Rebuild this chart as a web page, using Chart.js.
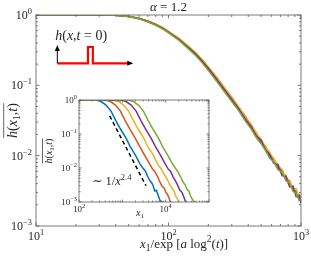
<!DOCTYPE html>
<html>
<head>
<meta charset="utf-8">
<script src="https://cdn.jsdelivr.net/npm/chart.js@4"></script>
<style>
  html, body { margin: 0; padding: 0; background: #fff; }
  #wrap { position: relative; width: 311px; height: 257px; }
  #mainChart { position: absolute; left: 0; top: 0; }
  #insetChart { position: absolute; left: 40px; top: 90px; }
</style>
</head>
<body>
<div id="wrap">
  <canvas id="mainChart" width="311" height="257"></canvas>
  <canvas id="insetChart" width="174" height="134"></canvas>
</div>
<script>
// main panel: rescaled x1 / exp[a log^2(t)]
const mainX = [10, 20, 30, 40, 50, 60, 70, 80, 90, 100, 120, 140, 160, 180, 200, 230, 260, 300, 340, 380,
               420, 460, 500, 540, 580, 620, 670, 720, 770, 820, 870, 920, 970, 1000];
const mainBlue   = [1, 1, 1, 0.99, 0.955, 0.89, 0.81, 0.73, 0.65, 0.57, 0.45, 0.35, 0.28, 0.22, 0.174, 0.124, 0.091, 0.063, 0.045, 0.034,
                    0.025, 0.021, 0.015, 0.0135, 0.0098, 0.0091, 0.0066, 0.0061, 0.0045, 0.0043, 0.0032, 0.0031, 0.0024, 0.0025];
const mainOrange = [1, 1, 1, 0.99, 0.958, 0.895, 0.82, 0.74, 0.66, 0.58, 0.46, 0.36, 0.29, 0.228, 0.18, 0.13, 0.095, 0.067, 0.048, 0.036,
                    0.027, 0.02, 0.017, 0.0128, 0.011, 0.0082, 0.0076, 0.0055, 0.0052, 0.0039, 0.0037, 0.0028, 0.0028, 0.0022];
const mainYellow = [1, 1, 1, 0.99, 0.96, 0.9, 0.825, 0.745, 0.665, 0.585, 0.465, 0.365, 0.293, 0.232, 0.183, 0.132, 0.097, 0.068, 0.049, 0.035,
                    0.028, 0.021, 0.0165, 0.0135, 0.0108, 0.0092, 0.0072, 0.0064, 0.0047, 0.0045, 0.0033, 0.0034, 0.0025, 0.0027];
const mainPurple = [1, 1, 1, 0.99, 0.955, 0.89, 0.81, 0.73, 0.65, 0.57, 0.45, 0.35, 0.28, 0.22, 0.173, 0.123, 0.09, 0.063, 0.046, 0.033,
                    0.026, 0.019, 0.0165, 0.012, 0.0104, 0.0079, 0.0073, 0.0052, 0.005, 0.0036, 0.0036, 0.0026, 0.0027, 0.0021];
const mainGreen  = [1, 1, 1, 0.99, 0.95, 0.88, 0.795, 0.715, 0.635, 0.555, 0.435, 0.335, 0.265, 0.207, 0.162, 0.115, 0.084, 0.059, 0.043, 0.031,
                    0.024, 0.018, 0.0148, 0.0118, 0.0092, 0.0083, 0.0063, 0.0058, 0.0044, 0.0041, 0.0031, 0.0029, 0.0023, 0.0024];

// inset: raw x1
const insetBlueX   = [100, 247, 322, 421, 548, 716, 934, 1200, 1500, 2000, 2560, 3000, 3400, 3900, 4370, 5000, 5600, 6100, 6670, 7400, 8260, 9000];
const insetBlueY   = [1, 1, 0.9, 0.71, 0.47, 0.24, 0.131, 0.078, 0.044, 0.024, 0.013, 0.0098, 0.0082, 0.0054, 0.0042, 0.0033, 0.0021, 0.0022, 0.0016, 0.0011, 0.001, 0.0006];
const insetOrangeX = [100, 408, 531, 695, 904, 1180, 1540, 1980, 2480, 3300, 4220, 4950, 5610, 6440, 7210, 8250, 9240, 10100, 11000, 12200, 13600, 14900];
const insetOrangeY = [1, 1, 0.9, 0.71, 0.47, 0.24, 0.131, 0.076, 0.045, 0.023, 0.0135, 0.0095, 0.0078, 0.0058, 0.0041, 0.0029, 0.0026, 0.0019, 0.0017, 0.0012, 0.0009, 0.0006];
const insetYellowX = [100, 630, 821, 1070, 1400, 1830, 2380, 3060, 3830, 5100, 6530, 7650, 8670, 9950, 11100, 12800, 14300, 15600, 17000, 18900, 21100, 23000];
const insetYellowY = [1, 1, 0.9, 0.71, 0.47, 0.24, 0.131, 0.079, 0.043, 0.025, 0.0128, 0.01, 0.0076, 0.0056, 0.0044, 0.003, 0.0024, 0.0021, 0.0015, 0.0012, 0.0008, 0.0006];
const insetPurpleX = [100, 939, 1220, 1600, 2080, 2720, 3550, 4560, 5700, 7600, 9730, 11400, 12900, 14800, 16600, 19000, 21300, 23200, 25300, 28100, 31400, 34200];
const insetPurpleY = [1, 1, 0.9, 0.71, 0.47, 0.24, 0.131, 0.077, 0.045, 0.024, 0.0132, 0.0094, 0.008, 0.0055, 0.0043, 0.0031, 0.0022, 0.002, 0.0016, 0.0011, 0.0009, 0.0006];
const insetGreenX  = [100, 1380, 1800, 2360, 3070, 4010, 5230, 6720, 8400, 11200, 14300, 16800, 19000, 21800, 24500, 28000, 31400, 34200, 37400, 41400, 46300, 50400];
const insetGreenY  = [1, 1, 0.9, 0.71, 0.47, 0.24, 0.131, 0.078, 0.044, 0.0235, 0.0133, 0.0099, 0.0079, 0.0057, 0.0041, 0.0032, 0.0023, 0.0021, 0.0015, 0.0012, 0.001, 0.0007];

// power-law guide ~ 1/x^2.4
const slopeX = [510, 3520];
const slopeY = [0.34, 0.003];

// initial condition sketch h(x, t=0)
const pulseX = [0, 0.44, 0.44, 0.51, 0.51, 1];
const pulseY = [0, 0, 1, 1, 0, 0];

const mainXTicks = [10, 100, 1000];
const mainYTicks = [1e-3, 1e-2, 1e-1, 1];
const insetXTicks = [1e2, 1e4];
const insetYTicks = [1e-3, 1e-2, 1e-1, 1];

const colors = ['#0072BD', '#D95319', '#EDB120', '#7E2F8E', '#77AC30'];
const SERIF = '"Liberation Serif", "DejaVu Serif", serif';
const TXT = '#262626';

function pts(xs, ys) {
  return xs.map((x, i) => ({ x: x, y: ys[i] }));
}
function f(size, italic) {
  return (italic ? 'italic ' : '') + size + 'px ' + SERIF;
}

// draw a row of text pieces: [text, font, dy]
function drawRich(ctx, segs, x, y, align) {
  let w = 0;
  segs.forEach(s => { ctx.font = s[1]; w += ctx.measureText(s[0]).width; });
  let cx = align === 'right' ? x - w : align === 'center' ? x - w / 2 : x;
  ctx.textAlign = 'left';
  ctx.textBaseline = 'alphabetic';
  segs.forEach(s => {
    ctx.font = s[1];
    ctx.fillText(s[0], cx, y + (s[2] || 0));
    cx += ctx.measureText(s[0]).width;
  });
  return w;
}

function powLabel(v, size) {
  const e = Math.round(Math.log10(v));
  const s = e < 0 ? '\u2212' + (-e) : '' + e;
  return [['10', f(size), 0], [s, f(size * 0.7), -size * 0.42]];
}

function logTicks(min, max) {
  const out = [];
  for (let d = Math.floor(Math.log10(min)); d <= Math.ceil(Math.log10(max)); d++) {
    for (let m = 1; m < 10; m++) {
      const v = m * Math.pow(10, d);
      if (v >= min * 0.999 && v <= max * 1.001) out.push({ v: v, major: m === 1 });
    }
  }
  return out;
}

function drawBoxTicks(ctx, chart, major, minor) {
  const a = chart.chartArea;
  const xs = chart.scales.x, ys = chart.scales.y;
  ctx.save();
  ctx.strokeStyle = '#5a5a5a';
  ctx.lineWidth = 0.8;
  ctx.strokeRect(a.left, a.top, a.right - a.left, a.bottom - a.top);
  ctx.beginPath();
  logTicks(xs.min, xs.max).forEach(t => {
    const p = xs.getPixelForValue(t.v);
    const L = t.major ? major : minor;
    ctx.moveTo(p, a.bottom); ctx.lineTo(p, a.bottom - L);
    ctx.moveTo(p, a.top); ctx.lineTo(p, a.top + L);
  });
  logTicks(ys.min, ys.max).forEach(t => {
    const p = ys.getPixelForValue(t.v);
    const L = t.major ? major : minor;
    ctx.moveTo(a.left, p); ctx.lineTo(a.left + L, p);
    ctx.moveTo(a.right, p); ctx.lineTo(a.right - L, p);
  });
  ctx.stroke();
  ctx.restore();
}

function drawYLabel(ctx, x, y, size) {
  // overline h(x_1, t), rotated
  const segs = [['h', f(size, true)], ['(', f(size)], ['x', f(size, true)], ['1', f(size * 0.7), size * 0.22],
                [',', f(size)], ['t', f(size, true)], [')', f(size)]];
  ctx.save();
  ctx.translate(x, y);
  ctx.rotate(-Math.PI / 2);
  ctx.fillStyle = TXT;
  const w = drawRich(ctx, segs, 0, 0, 'center');
  ctx.strokeStyle = TXT;
  ctx.lineWidth = 0.7;
  ctx.beginPath();
  ctx.moveTo(-w / 2, -size * 0.95);
  ctx.lineTo(w / 2, -size * 0.95);
  ctx.stroke();
  ctx.restore();
}

function arrowHead(ctx, x, y, dir) {
  ctx.beginPath();
  if (dir === 'up') {
    ctx.moveTo(x, y); ctx.lineTo(x - 2.5, y + 6); ctx.lineTo(x + 2.5, y + 6);
  } else {
    ctx.moveTo(x, y); ctx.lineTo(x - 6, y - 2.5); ctx.lineTo(x - 6, y + 2.5);
  }
  ctx.closePath();
  ctx.fill();
}

const mainDecor = {
  id: 'mainDecor',
  afterDatasetsDraw(chart) {
    const ctx = chart.ctx;
    const a = chart.chartArea;
    const xs = chart.scales.x, ys = chart.scales.y;
    drawBoxTicks(ctx, chart, 3.5, 2);
    ctx.save();
    ctx.fillStyle = TXT;
    mainYTicks.forEach(v => drawRich(ctx, powLabel(v, 12), a.left - 4, ys.getPixelForValue(v) + 4, 'right'));
    mainXTicks.forEach(v => drawRich(ctx, powLabel(v, 12), xs.getPixelForValue(v), a.bottom + 14, 'center'));
    // title
    drawRich(ctx, [['\u03b1', f(13, true)], [' = 1.2', f(13)]], (a.left + a.right) / 2, 11, 'center');
    // x label
    drawRich(ctx, [['x', f(13, true)], ['1', f(9.5), 3], ['/exp ', f(13)], ['[', f(13)], ['a', f(13, true)],
                   [' log', f(13)], ['2', f(9.5), -6], ['(', f(13)], ['t', f(13, true)], [')]', f(13)]],
             140, 248, 'left');
    drawYLabel(ctx, 17, (a.top + a.bottom) / 2, 14);

    // sketch axes arrows
    const sx = chart.scales.xs, sy = chart.scales.ys;
    const x0 = sx.getPixelForValue(0), y0 = sy.getPixelForValue(0);
    const yTop = sy.getPixelForValue(1.12), xEnd = sx.getPixelForValue(1.09);
    ctx.strokeStyle = '#000';
    ctx.fillStyle = '#000';
    ctx.lineWidth = 1;
    ctx.beginPath();
    ctx.moveTo(x0, y0); ctx.lineTo(x0, yTop + 4);
    ctx.moveTo(sx.getPixelForValue(1), y0); ctx.lineTo(xEnd - 4, y0);
    ctx.stroke();
    arrowHead(ctx, x0, yTop, 'up');
    arrowHead(ctx, xEnd, y0, 'right');
    ctx.fillStyle = TXT;
    drawRich(ctx, [['h', f(14, true)], ['(', f(14)], ['x', f(14, true)], [',', f(14)], ['t', f(14, true)],
                   [' = 0)', f(14)]], sx.getPixelForValue(-0.03), sy.getPixelForValue(1.43), 'left');
    ctx.restore();
  }
};

const insetDecor = {
  id: 'insetDecor',
  afterDatasetsDraw(chart) {
    const ctx = chart.ctx;
    const a = chart.chartArea;
    const xs = chart.scales.x, ys = chart.scales.y;
    drawBoxTicks(ctx, chart, 2.5, 1.5);
    ctx.save();
    ctx.fillStyle = TXT;
    insetYTicks.forEach(v => drawRich(ctx, powLabel(v, 9), a.left - 2, ys.getPixelForValue(v) + 3, 'right'));
    insetXTicks.forEach(v => drawRich(ctx, powLabel(v, 9), xs.getPixelForValue(v), a.bottom + 10, 'center'));
    drawRich(ctx, [['x', f(10, true)], ['1', f(7), 2]], (a.left + a.right) / 2 - 4, a.bottom + 14, 'center');
    drawYLabel(ctx, 12, (a.top + a.bottom) / 2, 10);
    drawRich(ctx, [['\u223c 1/', f(12.5)], ['x', f(12.5, true)], ['2.4', f(8.5), -5.5]], 52, 95, 'left');
    ctx.restore();
  }
};

function line(data, color, extra) {
  return Object.assign({ data: data, borderColor: color, backgroundColor: color, borderWidth: 1.5,
                         pointRadius: 0, fill: false, tension: 0 }, extra || {});
}

// Chart.js draws the first dataset on top, so the last colour goes first
new Chart(document.getElementById('mainChart'), {
  type: 'line',
  data: {
    datasets: [
      line(pts(pulseX, pulseY), '#FF0000', { xAxisID: 'xs', yAxisID: 'ys', borderWidth: 2.2 }),
      line(pts(mainX, mainGreen), colors[4]),
      line(pts(mainX, mainPurple), colors[3]),
      line(pts(mainX, mainYellow), colors[2]),
      line(pts(mainX, mainOrange), colors[1]),
      line(pts(mainX, mainBlue), colors[0])
    ]
  },
  options: {
    responsive: false,
    animation: false,
    layout: { padding: { left: 36, right: 10, top: 15, bottom: 31 } },
    plugins: { legend: { display: false }, tooltip: { enabled: false } },
    scales: {
      x: { type: 'logarithmic', min: 10, max: 1000, display: false },
      y: { type: 'logarithmic', min: 1e-3, max: 1, display: false },
      xs: { type: 'linear', axis: 'x', position: 'bottom', min: -0.306, max: 3.497, display: false },
      ys: { type: 'linear', axis: 'y', position: 'left', min: -9.98, max: 2.963, display: false }
    }
  },
  plugins: [mainDecor]
});

new Chart(document.getElementById('insetChart'), {
  type: 'line',
  data: {
    datasets: [
      line(pts(slopeX, slopeY), '#000', { borderDash: [4, 3], borderWidth: 1.5 }),
      line(pts(insetGreenX, insetGreenY), colors[4]),
      line(pts(insetPurpleX, insetPurpleY), colors[3]),
      line(pts(insetYellowX, insetYellowY), colors[2]),
      line(pts(insetOrangeX, insetOrangeY), colors[1]),
      line(pts(insetBlueX, insetBlueY), colors[0])
    ]
  },
  options: {
    responsive: false,
    animation: false,
    layout: { padding: { left: 39, right: 5, top: 10, bottom: 22 } },
    plugins: { legend: { display: false }, tooltip: { enabled: false } },
    scales: {
      x: { type: 'logarithmic', min: 100, max: 1e5, display: false },
      y: { type: 'logarithmic', min: 1e-3, max: 1, display: false }
    }
  },
  plugins: [insetDecor]
});
</script>
</body>
</html>
